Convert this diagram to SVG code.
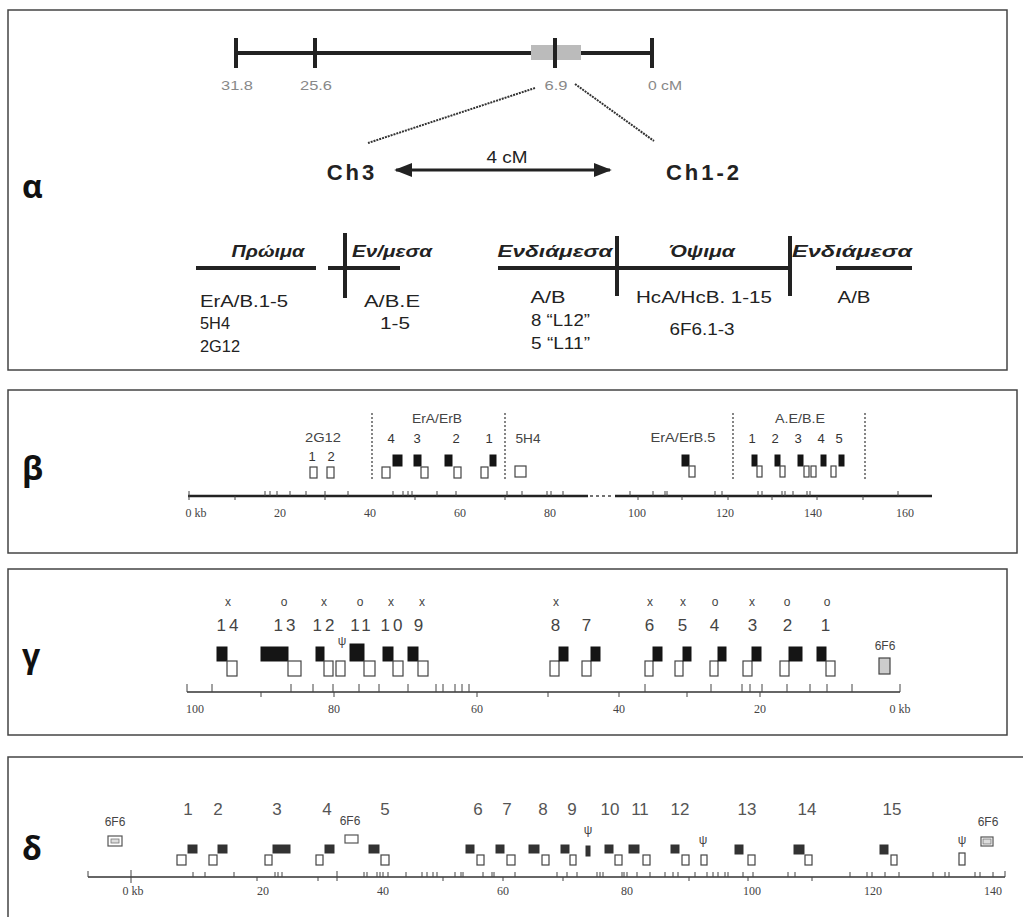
<svg xmlns="http://www.w3.org/2000/svg" width="1023" height="917" viewBox="0 0 1023 917">
<style>
.frame{fill:none;stroke:#444;stroke-width:1.5}
.pl{font-family:"Open Sans","DejaVu Sans",sans-serif;font-weight:bold;font-size:32px;fill:#111}
.sc{font-family:"Liberation Sans",Arial,sans-serif;font-size:13px;fill:#888;text-anchor:middle}
.ch{font-family:"Liberation Sans",Arial,sans-serif;font-weight:bold;font-size:22px;fill:#222;letter-spacing:3px;text-anchor:middle}
.hd{font-family:"Liberation Sans",Arial,sans-serif;font-weight:bold;font-style:italic;font-size:17px;fill:#222;text-anchor:middle}
.bt{font-family:"Liberation Sans",Arial,sans-serif;font-size:17px;fill:#222}
.thick{stroke:#222;stroke-width:4;fill:none}
.lab{font-family:"Liberation Sans",Arial,sans-serif;font-size:13px;fill:#444;text-anchor:middle}
.num{font-family:"Liberation Sans",Arial,sans-serif;font-size:13px;fill:#333;text-anchor:middle}
.gnum{font-family:"Liberation Sans",Arial,sans-serif;font-size:17px;fill:#444;text-anchor:middle;letter-spacing:3px}
.gx{font-family:"Liberation Sans",Arial,sans-serif;font-size:12px;fill:#444;text-anchor:middle}
.dnum{font-family:"Liberation Sans",Arial,sans-serif;font-size:17px;fill:#555;text-anchor:middle}
.ax{font-family:"Liberation Serif","Times New Roman",serif;font-size:12px;fill:#444;text-anchor:middle}
.f{fill:#151515;stroke:#151515;stroke-width:1}
.fd{fill:#333;stroke:#333;stroke-width:1}
.o{fill:#fff;stroke:#444;stroke-width:1.2}
.tk{stroke:#444;stroke-width:1}
.dv{stroke:#444;stroke-width:1.3;stroke-dasharray:2,2}
</style>
<defs>
<marker id="ah" viewBox="0 0 10 10" refX="9" refY="5" markerWidth="6" markerHeight="6" orient="auto-start-reverse" markerUnits="strokeWidth"><path d="M0,1 L10,5 L0,9 z" fill="#222"/></marker>
</defs>
<rect width="1023" height="917" fill="#fff"/>

<!-- Panel alpha -->
<g id="panel-alpha">
<rect class="frame" x="8" y="10" width="999" height="360"/>
<text class="pl" x="22" y="198">α</text>
<line class="thick" x1="236" y1="53" x2="652" y2="53"/>
<rect x="531" y="45" width="50" height="15" fill="#bbb"/>
<line class="thick" x1="236" y1="38" x2="236" y2="68"/>
<line class="thick" x1="315" y1="38" x2="315" y2="68"/>
<line class="thick" x1="555" y1="38" x2="555" y2="68"/>
<line class="thick" x1="652" y1="38" x2="652" y2="68"/>
<text class="sc" x="237" y="90" textLength="32" lengthAdjust="spacingAndGlyphs">31.8</text>
<text class="sc" x="316" y="90" textLength="32" lengthAdjust="spacingAndGlyphs">25.6</text>
<text class="sc" x="556" y="90" textLength="23" lengthAdjust="spacingAndGlyphs">6.9</text>
<text class="sc" x="665" y="90" textLength="34" lengthAdjust="spacingAndGlyphs">0 cM</text>
<line x1="535" y1="88" x2="368" y2="143" stroke="#333" stroke-width="2" stroke-dasharray="2,1"/>
<line x1="575" y1="84" x2="654" y2="141" stroke="#333" stroke-width="2" stroke-dasharray="2,1"/>
<text class="ch" x="352" y="180">Ch3</text>
<text class="ch" x="704" y="180">Ch1-2</text>
<line x1="396" y1="170" x2="610" y2="170" stroke="#222" stroke-width="3" marker-start="url(#ah)" marker-end="url(#ah)"/>
<text class="bt" x="507" y="163" text-anchor="middle" font-size="15" textLength="41" lengthAdjust="spacingAndGlyphs">4 cM</text>
<text class="hd" x="268" y="257" textLength="73" lengthAdjust="spacingAndGlyphs">Πρώιμα</text>
<text class="hd" x="392" y="257" textLength="80" lengthAdjust="spacingAndGlyphs">Εν/μεσα</text>
<text class="hd" x="555" y="257" textLength="115" lengthAdjust="spacingAndGlyphs">Ενδιάμεσα</text>
<text class="hd" x="702" y="257" textLength="66" lengthAdjust="spacingAndGlyphs">Όψιμα</text>
<text class="hd" x="852" y="257" textLength="120" lengthAdjust="spacingAndGlyphs">Ενδιάμεσα</text>
<line class="thick" x1="196" y1="268" x2="316" y2="268"/>
<line class="thick" x1="328" y1="268" x2="400" y2="268"/>
<line class="thick" x1="498" y1="268" x2="792" y2="268"/>
<line class="thick" x1="836" y1="268" x2="912" y2="268"/>
<line class="thick" x1="345" y1="233" x2="345" y2="298"/>
<line class="thick" x1="617" y1="236" x2="617" y2="296"/>
<line class="thick" x1="790" y1="236" x2="790" y2="296"/>
<text class="bt" x="200" y="307" textLength="88" lengthAdjust="spacingAndGlyphs">ErA/B.1-5</text>
<text class="bt" x="200" y="329" textLength="30" lengthAdjust="spacingAndGlyphs">5H4</text>
<text class="bt" x="200" y="352" textLength="40" lengthAdjust="spacingAndGlyphs">2G12</text>
<text class="bt" x="392" y="307" text-anchor="middle" textLength="56" lengthAdjust="spacingAndGlyphs">A/B.E</text>
<text class="bt" x="395" y="329" text-anchor="middle" textLength="30" lengthAdjust="spacingAndGlyphs">1-5</text>
<text class="bt" x="548" y="303" text-anchor="middle" textLength="35" lengthAdjust="spacingAndGlyphs">A/B</text>
<text class="bt" x="531" y="326" textLength="59" lengthAdjust="spacingAndGlyphs">8 “L12”</text>
<text class="bt" x="531" y="349" textLength="59" lengthAdjust="spacingAndGlyphs">5 “L11”</text>
<text class="bt" x="704" y="303" text-anchor="middle" textLength="136" lengthAdjust="spacingAndGlyphs">HcA/HcB. 1-15</text>
<text class="bt" x="702" y="335" text-anchor="middle" textLength="65" lengthAdjust="spacingAndGlyphs">6F6.1-3</text>
<text class="bt" x="854" y="303" text-anchor="middle" textLength="33" lengthAdjust="spacingAndGlyphs">A/B</text>
</g>

<!-- Panel beta -->
<g id="panel-beta">
<rect class="frame" x="8" y="390" width="1009" height="163"/>
<text class="pl" x="22" y="480">β</text>
<line x1="188" y1="496" x2="588" y2="496" stroke="#222" stroke-width="2.5"/>
<line x1="590" y1="496" x2="614" y2="496" stroke="#444" stroke-width="1.5" stroke-dasharray="3,3"/>
<line x1="615" y1="496" x2="932" y2="496" stroke="#222" stroke-width="2.5"/>
<path class="tk" d="M189,491V500 M265,491V496 M270,491V496 M277,491V496 M290,491V496 M306,491V496 M325,491V496 M348,491V496 M393,491V496 M403,491V496 M408,491V496 M412,491V496 M437,491V496 M456,491V496 M507,491V496 M522,491V496 M547,491V496 M551,491V496 M563,491V496 M235,496V500 M325,496V500 M415,496V500 M505,496V500 M630,491V496 M653,491V496 M665,491V496 M667,491V496 M715,491V496 M722,491V496 M758,491V496 M762,491V496 M782,491V496 M785,491V496 M793,491V496 M807,491V496 M810,491V496 M898,491V496 M638,496V500 M682,496V500 M728,496V500 M772,496V500 M817,496V500 M863,496V500"/>
<text class="ax" x="196" y="517">0 kb</text>
<text class="ax" x="280" y="517">20</text>
<text class="ax" x="370" y="517">40</text>
<text class="ax" x="460" y="517">60</text>
<text class="ax" x="550" y="517">80</text>
<text class="ax" x="637" y="517">100</text>
<text class="ax" x="725" y="517">120</text>
<text class="ax" x="813" y="517">140</text>
<text class="ax" x="905" y="517">160</text>
<line class="dv" x1="372" y1="413" x2="372" y2="480"/>
<line class="dv" x1="505" y1="413" x2="505" y2="480"/>
<line class="dv" x1="733" y1="413" x2="733" y2="480"/>
<line class="dv" x1="865" y1="413" x2="865" y2="480"/>
<text class="lab" x="323" y="442" textLength="36" lengthAdjust="spacingAndGlyphs">2G12</text>
<text class="num" x="312" y="461">1</text>
<text class="num" x="331" y="461">2</text>
<rect class="o" x="310" y="467" width="7" height="11"/>
<rect class="o" x="327" y="467" width="7" height="11"/>
<text class="lab" x="437" y="423" textLength="50" lengthAdjust="spacingAndGlyphs">ErA/ErB</text>
<text class="num" x="391" y="443">4</text>
<text class="num" x="417" y="443">3</text>
<text class="num" x="456" y="443">2</text>
<text class="num" x="489" y="443">1</text>
<rect class="f" x="393" y="455" width="9" height="11"/>
<rect class="o" x="382" y="467" width="8" height="11"/>
<rect class="f" x="414" y="455" width="7" height="11"/>
<rect class="o" x="421" y="467" width="7" height="11"/>
<rect class="f" x="445" y="455" width="7" height="11"/>
<rect class="o" x="454" y="467" width="7" height="11"/>
<rect class="f" x="490" y="455" width="6" height="11"/>
<rect class="o" x="481" y="467" width="7" height="11"/>
<text class="lab" x="528" y="443" textLength="25" lengthAdjust="spacingAndGlyphs">5H4</text>
<rect class="o" x="515" y="466" width="11" height="11"/>
<text class="lab" x="683" y="442" textLength="65" lengthAdjust="spacingAndGlyphs">ErA/ErB.5</text>
<rect class="f" x="682" y="455" width="7" height="11"/>
<rect class="o" x="689" y="466" width="6" height="11"/>
<text class="lab" x="800" y="423" textLength="50" lengthAdjust="spacingAndGlyphs">A.E/B.E</text>
<text class="num" x="752" y="443">1</text>
<text class="num" x="775" y="443">2</text>
<text class="num" x="798" y="443">3</text>
<text class="num" x="821" y="443">4</text>
<text class="num" x="839" y="443">5</text>
<rect class="f" x="752" y="455" width="5" height="11"/>
<rect class="o" x="757" y="466" width="5" height="11"/>
<rect class="f" x="775" y="455" width="5" height="11"/>
<rect class="o" x="780" y="466" width="5" height="11"/>
<rect class="f" x="798" y="455" width="5" height="11"/>
<rect class="o" x="804" y="466" width="5" height="11"/>
<rect class="o" x="811" y="466" width="5" height="11"/>
<rect class="f" x="821" y="455" width="5" height="11"/>
<rect class="o" x="831" y="466" width="5" height="11"/>
<rect class="f" x="839" y="455" width="5" height="11"/>
</g>

<!-- Panel gamma -->
<g id="panel-gamma">
<rect class="frame" x="8" y="569" width="999" height="166"/>
<text class="pl" x="22" y="667">γ</text>
<line x1="187" y1="692" x2="900" y2="692" stroke="#333" stroke-width="1.5"/>
<path class="tk" d="M187,684V692 M212,684V692 M291,684V692 M313,684V692 M333,684V692 M359,684V692 M379,684V692 M408,684V692 M436,684V692 M443,684V692 M455,684V692 M462,684V692 M469,684V692 M645,684V692 M711,684V692 M742,684V692 M750,684V692 M762,684V692 M787,684V692 M810,684V692 M827,684V692 M852,684V692 M900,684V692 M261,692V697 M334,692V697 M477,692V697 M548,692V697 M619,692V697 M687,692V697 M760,692V697"/>
<text class="ax" x="195" y="713">100</text>
<text class="ax" x="334" y="713">80</text>
<text class="ax" x="477" y="713">60</text>
<text class="ax" x="619" y="713">40</text>
<text class="ax" x="760" y="713">20</text>
<text class="ax" x="900" y="713">0 kb</text>
<text class="gx" x="228" y="606">x</text>
<text class="gx" x="284" y="606">o</text>
<text class="gx" x="324" y="606">x</text>
<text class="gx" x="360" y="606">o</text>
<text class="gx" x="391" y="606">x</text>
<text class="gx" x="422" y="606">x</text>
<text class="gx" x="556" y="606">x</text>
<text class="gx" x="650" y="606">x</text>
<text class="gx" x="683" y="606">x</text>
<text class="gx" x="715" y="606">o</text>
<text class="gx" x="752" y="606">x</text>
<text class="gx" x="787" y="606">o</text>
<text class="gx" x="827" y="606">o</text>
<text class="gnum" x="229" y="631">14</text>
<text class="gnum" x="286" y="631">13</text>
<text class="gnum" x="325" y="631">12</text>
<text class="gnum" x="362" y="631">11</text>
<text class="gnum" x="393" y="631">10</text>
<text class="gnum" x="420" y="631">9</text>
<text class="gnum" x="557" y="631">8</text>
<text class="gnum" x="588" y="631">7</text>
<text class="gnum" x="651" y="631">6</text>
<text class="gnum" x="684" y="631">5</text>
<text class="gnum" x="716" y="631">4</text>
<text class="gnum" x="754" y="631">3</text>
<text class="gnum" x="789" y="631">2</text>
<text class="gnum" x="827" y="631">1</text>
<text class="gx" x="342" y="645" font-size="13">ψ</text>
<rect class="f" x="217" y="647" width="10" height="14"/>
<rect class="o" x="227" y="661" width="10" height="15"/>
<rect class="f" x="261" y="647" width="27" height="14"/>
<rect class="o" x="288" y="661" width="13" height="15"/>
<rect class="f" x="316" y="647" width="8" height="14"/>
<rect class="o" x="324" y="661" width="9" height="15"/>
<rect class="o" x="336" y="661" width="9" height="15"/>
<rect class="f" x="350" y="644" width="14" height="17"/>
<rect class="o" x="364" y="661" width="11" height="15"/>
<rect class="f" x="383" y="647" width="10" height="14"/>
<rect class="o" x="393" y="661" width="10" height="15"/>
<rect class="f" x="408" y="647" width="10" height="14"/>
<rect class="o" x="418" y="661" width="10" height="15"/>
<rect class="o" x="550" y="661" width="9" height="15"/>
<rect class="f" x="559" y="647" width="9" height="14"/>
<rect class="o" x="582" y="661" width="9" height="15"/>
<rect class="f" x="591" y="647" width="9" height="14"/>
<rect class="o" x="645" y="661" width="8" height="15"/>
<rect class="f" x="653" y="647" width="9" height="14"/>
<rect class="o" x="675" y="661" width="8" height="15"/>
<rect class="f" x="683" y="647" width="8" height="14"/>
<rect class="o" x="710" y="661" width="8" height="15"/>
<rect class="f" x="718" y="647" width="8" height="14"/>
<rect class="o" x="743" y="661" width="9" height="15"/>
<rect class="f" x="752" y="647" width="9" height="14"/>
<rect class="o" x="780" y="661" width="9" height="15"/>
<rect class="f" x="789" y="647" width="13" height="14"/>
<rect class="f" x="817" y="647" width="9" height="14"/>
<rect class="o" x="826" y="661" width="9" height="15"/>
<text class="gx" x="885" y="650">6F6</text>
<rect x="879" y="658" width="11" height="16" fill="#ccc" stroke="#444" stroke-width="1.2"/>
</g>

<!-- Panel delta -->
<g id="panel-delta">
<path class="frame" d="M1023,757H8V917"/>
<text class="pl" x="22" y="860">δ</text>
<line x1="88" y1="877" x2="1005" y2="877" stroke="#333" stroke-width="1.3"/>
<path class="tk" d="M88,871V877 M131,870V883 M193,872V877 M205,872V877 M234,872V877 M257,877V881 M275,872V877 M278,872V877 M282,872V877 M318,877V881 M337,871V881 M364,872V877 M367,872V877 M377,872V877 M380,872V877 M383,872V877 M388,872V877 M406,872V877 M422,872V877 M427,872V877 M433,872V877 M437,872V877 M443,877V881 M455,872V877 M461,872V877 M463,872V877 M483,872V877 M492,872V877 M494,872V877 M503,877V881 M515,872V877 M557,872V877 M563,877V881 M567,872V877 M577,872V877 M597,872V877 M600,872V877 M603,872V877 M622,872V877 M624,872V877 M627,872V877 M637,872V877 M650,872V877 M665,872V877 M673,872V877 M678,872V877 M689,877V881 M695,872V877 M707,872V877 M713,872V877 M718,872V877 M725,872V877 M728,872V877 M743,872V877 M748,877V881 M753,872V877 M788,872V877 M795,872V877 M812,877V881 M850,872V877 M867,872V877 M872,872V877 M885,872V877 M899,872V877 M933,872V877 M945,872V877 M949,872V877 M975,872V877 M980,872V877 M993,872V877 M1005,871V877"/>
<text class="ax" x="133" y="895">0 kb</text>
<text class="ax" x="263" y="895">20</text>
<text class="ax" x="383" y="895">40</text>
<text class="ax" x="503" y="895">60</text>
<text class="ax" x="627" y="895">80</text>
<text class="ax" x="752" y="895">100</text>
<text class="ax" x="873" y="895">120</text>
<text class="ax" x="993" y="895">140</text>
<text class="dnum" x="188" y="815">1</text>
<text class="dnum" x="218" y="815">2</text>
<text class="dnum" x="277" y="815">3</text>
<text class="dnum" x="327" y="815">4</text>
<text class="dnum" x="385" y="815">5</text>
<text class="dnum" x="478" y="815">6</text>
<text class="dnum" x="507" y="815">7</text>
<text class="dnum" x="543" y="815">8</text>
<text class="dnum" x="572" y="815">9</text>
<text class="dnum" x="610" y="815">10</text>
<text class="dnum" x="640" y="815">11</text>
<text class="dnum" x="680" y="815">12</text>
<text class="dnum" x="747" y="815">13</text>
<text class="dnum" x="807" y="815">14</text>
<text class="dnum" x="892" y="815">15</text>
<text class="gx" x="115" y="826">6F6</text>
<rect x="108" y="836" width="14" height="10" fill="#fff" stroke="#555" stroke-width="1.2"/>
<rect x="111" y="839" width="8" height="4" fill="#ddd" stroke="#777" stroke-width="0.8"/>
<text class="gx" x="350" y="825">6F6</text>
<rect x="345" y="835" width="13" height="8" fill="#fff" stroke="#555" stroke-width="1.2"/>
<text class="gx" x="988" y="826">6F6</text>
<rect x="981" y="837" width="12" height="9" fill="#fff" stroke="#555" stroke-width="1.2"/>
<rect x="983" y="839" width="8" height="5" fill="#ddd" stroke="#777" stroke-width="0.8"/>
<text class="gx" x="588" y="834">ψ</text>
<text class="gx" x="703" y="844">ψ</text>
<text class="gx" x="962" y="844">ψ</text>
<rect class="fd" x="188" y="845" width="9" height="8"/>
<rect class="o" x="177" y="855" width="9" height="10"/>
<rect class="fd" x="218" y="845" width="9" height="8"/>
<rect class="o" x="209" y="855" width="8" height="10"/>
<rect class="fd" x="273" y="845" width="17" height="8"/>
<rect class="o" x="265" y="855" width="7" height="10"/>
<rect class="fd" x="325" y="845" width="9" height="8"/>
<rect class="o" x="316" y="855" width="7" height="10"/>
<rect class="fd" x="369" y="845" width="10" height="8"/>
<rect class="o" x="381" y="855" width="8" height="10"/>
<rect class="fd" x="466" y="845" width="8" height="8"/>
<rect class="o" x="477" y="855" width="7" height="10"/>
<rect class="fd" x="496" y="845" width="8" height="8"/>
<rect class="o" x="507" y="855" width="8" height="10"/>
<rect class="fd" x="529" y="845" width="10" height="8"/>
<rect class="o" x="542" y="855" width="7" height="10"/>
<rect class="fd" x="561" y="845" width="8" height="8"/>
<rect class="o" x="570" y="855" width="6" height="10"/>
<rect class="fd" x="586" y="846" width="4" height="10"/>
<rect class="fd" x="605" y="845" width="8" height="8"/>
<rect class="o" x="615" y="855" width="7" height="10"/>
<rect class="fd" x="629" y="845" width="10" height="8"/>
<rect class="o" x="643" y="855" width="7" height="10"/>
<rect class="fd" x="671" y="845" width="8" height="8"/>
<rect class="o" x="682" y="855" width="7" height="10"/>
<rect class="o" x="701" y="855" width="6" height="10"/>
<rect class="fd" x="735" y="845" width="8" height="9"/>
<rect class="o" x="748" y="855" width="7" height="10"/>
<rect class="fd" x="794" y="845" width="10" height="9"/>
<rect class="o" x="805" y="855" width="7" height="10"/>
<rect class="fd" x="880" y="845" width="8" height="9"/>
<rect class="o" x="891" y="855" width="6" height="10"/>
<rect class="o" x="959" y="853" width="6" height="12"/>
</g>
</svg>
